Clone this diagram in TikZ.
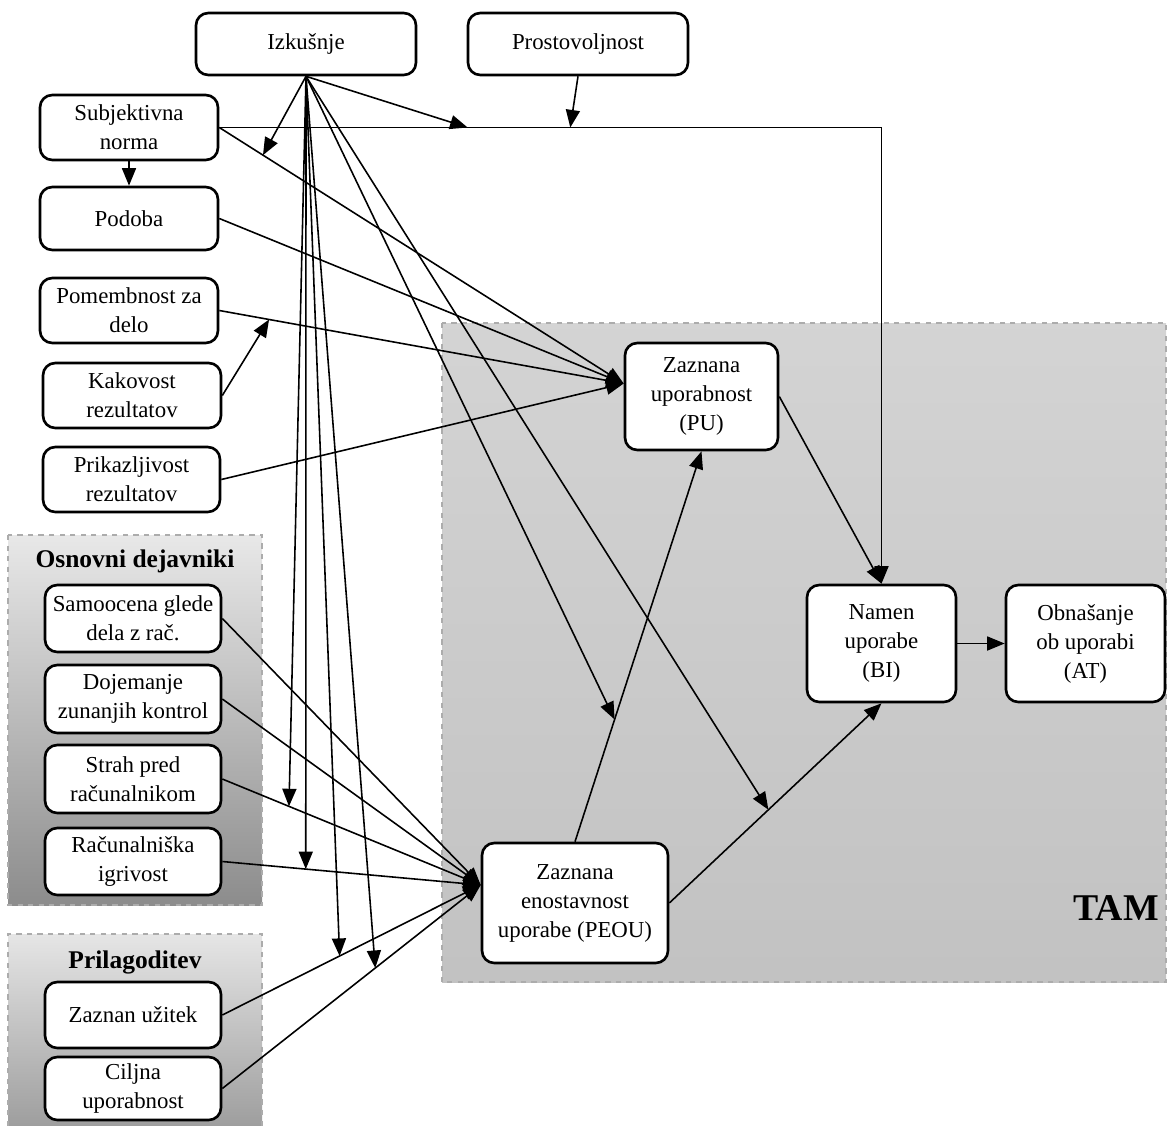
\documentclass[tikz,border=0pt]{standalone}
\usepackage{fontspec}
\setmainfont{Liberation Serif}
\usetikzlibrary{arrows.meta,calc}

\tikzset{
  box/.style={draw=black, line width=1.5pt, rounded corners=7pt, fill=white,
    align=center, inner sep=0pt, font=\fontsize{13}{16.5}\selectfont},
  sz/.style 2 args={minimum width=#1*0.02cm, minimum height=#2*0.02cm},
  conn/.style={line width=0.9pt, -{Triangle[length=10pt,width=8pt]}},
  groupframe/.style={draw=gray!65, dashed, line width=0.7pt},
  grouptitle/.style={font=\fontsize{14.5}{17}\selectfont\bfseries},
}

\begin{document}
\begin{tikzpicture}[x=0.02cm,y=-0.02cm]
\useasboundingbox (0,0) rectangle (1167,1126);

% TAM region
\shade[top color=black!17, bottom color=black!24] (442,323) rectangle (1166,982);
\draw[groupframe] (442,323) rectangle (1166,982);
\node[font=\fontsize{21.5}{24}\selectfont\bfseries] (tam) at (1116,908) {TAM};

% Osnovni dejavniki group
\shade[top color=black!9, bottom color=black!45] (8,535) rectangle (262,905);
\draw[groupframe] (8,535) rectangle (262,905);
\node[grouptitle] (osn) at (135,561) {Osnovni dejavniki};

% Prilagoditev group (runs off the bottom edge)
\shade[top color=black!10, bottom color=black!38] (8,934) rectangle (262,1126);
\draw[groupframe] (8,1126) -- (8,934) -- (262,934) -- (262,1126);
\node[grouptitle] (pril) at (135,962) {Prilagoditev};

% boxes
\node[box, sz={220}{62}] (izk)   at (306,44)      {Izkušnje};
\node[box, sz={220}{62}] (prost) at (578,44)      {Prostovoljnost};
\node[box, sz={178}{65}] (sn)    at (129,127.5)   {Subjektivna\\norma};
\node[box, sz={178}{63}] (pod)   at (129,218.5)   {Podoba};
\node[box, sz={178}{65}] (pom)   at (129,310.5)   {Pomembnost za\\delo};
\node[box, sz={178}{65}] (kak)   at (132,395.5)   {Kakovost\\rezultatov};
\node[box, sz={177}{65}] (prik)  at (131.5,479.5) {Prikazljivost\\rezultatov};
\node[box, sz={176}{67}] (sam)   at (133,618.5)   {Samoocena glede\\dela z rač.};
\node[box, sz={176}{68}] (doj)   at (133,699)     {Dojemanje\\zunanjih kontrol};
\node[box, sz={176}{68}] (str)   at (133,779)     {Strah pred\\računalnikom};
\node[box, sz={176}{67}] (igr)   at (133,861.5)   {Računalniška\\igrivost};
\node[box, sz={176}{66}] (uz)    at (133,1015)    {Zaznan užitek};
\node[box, sz={176}{63}] (cil)   at (133,1088.5)  {Ciljna\\uporabnost};
\node[box, sz={153}{107}] (pu)   at (701.5,396.5) {Zaznana\\uporabnost\\(PU)};
\node[box, sz={149}{117}] (bi)   at (881.5,643.5) {Namen\\uporabe\\(BI)};
\node[box, sz={159}{117}] (att)  at (1085.5,643.5) {Obnašanje\\ob uporabi\\(AT)};
\node[box, sz={186}{120}] (peou) at (575,903)     {Zaznana\\enostavnost\\uporabe (PEOU)};

% entry points where several arrows meet
\coordinate (puin)   at ($(pu.west)+(0,-13)$);
\coordinate (peouin) at ($(peou.west)+(0,-18)$);
\coordinate (corner) at (bi.north |- sn.east);

% subjective norm to intention (elbow line)
\draw[conn] (sn.east) -- (corner) -- (bi.north);
\draw[conn] (sn.south) -- (pod.north);

% inputs to perceived usefulness
\draw[conn] (sn.east) -- (puin);
\draw[conn] (pod.east) -- (puin);
\draw[conn] (pom.east) -- (puin);
\draw[conn] (prik.east) -- (puin);

% inputs to perceived ease of use
\draw[conn] (sam.east) -- (peouin);
\draw[conn] (doj.east) -- (peouin);
\draw[conn] (str.east) -- (peouin);
\draw[conn] (igr.east) -- (peouin);
\draw[conn] (uz.east) -- (peouin);
\draw[conn] (cil.east) -- (peouin);

% TAM core
\draw[conn] (peou.north) -- (pu.south);
\draw[conn] (peou.east) -- (bi.south);
\draw[conn] (pu.east) -- (bi.north);
\draw[conn] (bi.east) -- (att.west);

% moderating points on the connectors
\coordinate (m-sn)   at ($(sn.east)!0.108!(puin)$);
\coordinate (m-h1)   at ($(sn.east)!0.375!(corner)$);
\coordinate (m-h2)   at ($(sn.east)!0.530!(corner)$);
\coordinate (m-pom)  at ($(pom.east)!0.123!(puin)$);
\coordinate (m-str)  at ($(str.east)!0.258!(peouin)$);
\coordinate (m-igr)  at ($(igr.east)!0.323!(peouin)$);
\coordinate (m-uz)   at ($(uz.east)!0.454!(peouin)$);
\coordinate (m-cil)  at ($(cil.east)!0.592!(peouin)$);
\coordinate (m-pp)   at ($(peou.north)!0.313!(pu.south)$);
\coordinate (m-pb)   at ($(peou.east)!0.467!(bi.south)$);

% moderators
\draw[conn] (kak.east) -- (m-pom);
\draw[conn] (prost.south) -- (m-h2);
\draw[conn] (izk.south) -- (m-sn);
\draw[conn] (izk.south) -- (m-h1);
\draw[conn] (izk.south) -- (m-str);
\draw[conn] (izk.south) -- (m-igr);
\draw[conn] (izk.south) -- (m-uz);
\draw[conn] (izk.south) -- (m-cil);
\draw[conn] (izk.south) -- (m-pp);
\draw[conn] (izk.south) -- (m-pb);
\end{tikzpicture}
\end{document}
